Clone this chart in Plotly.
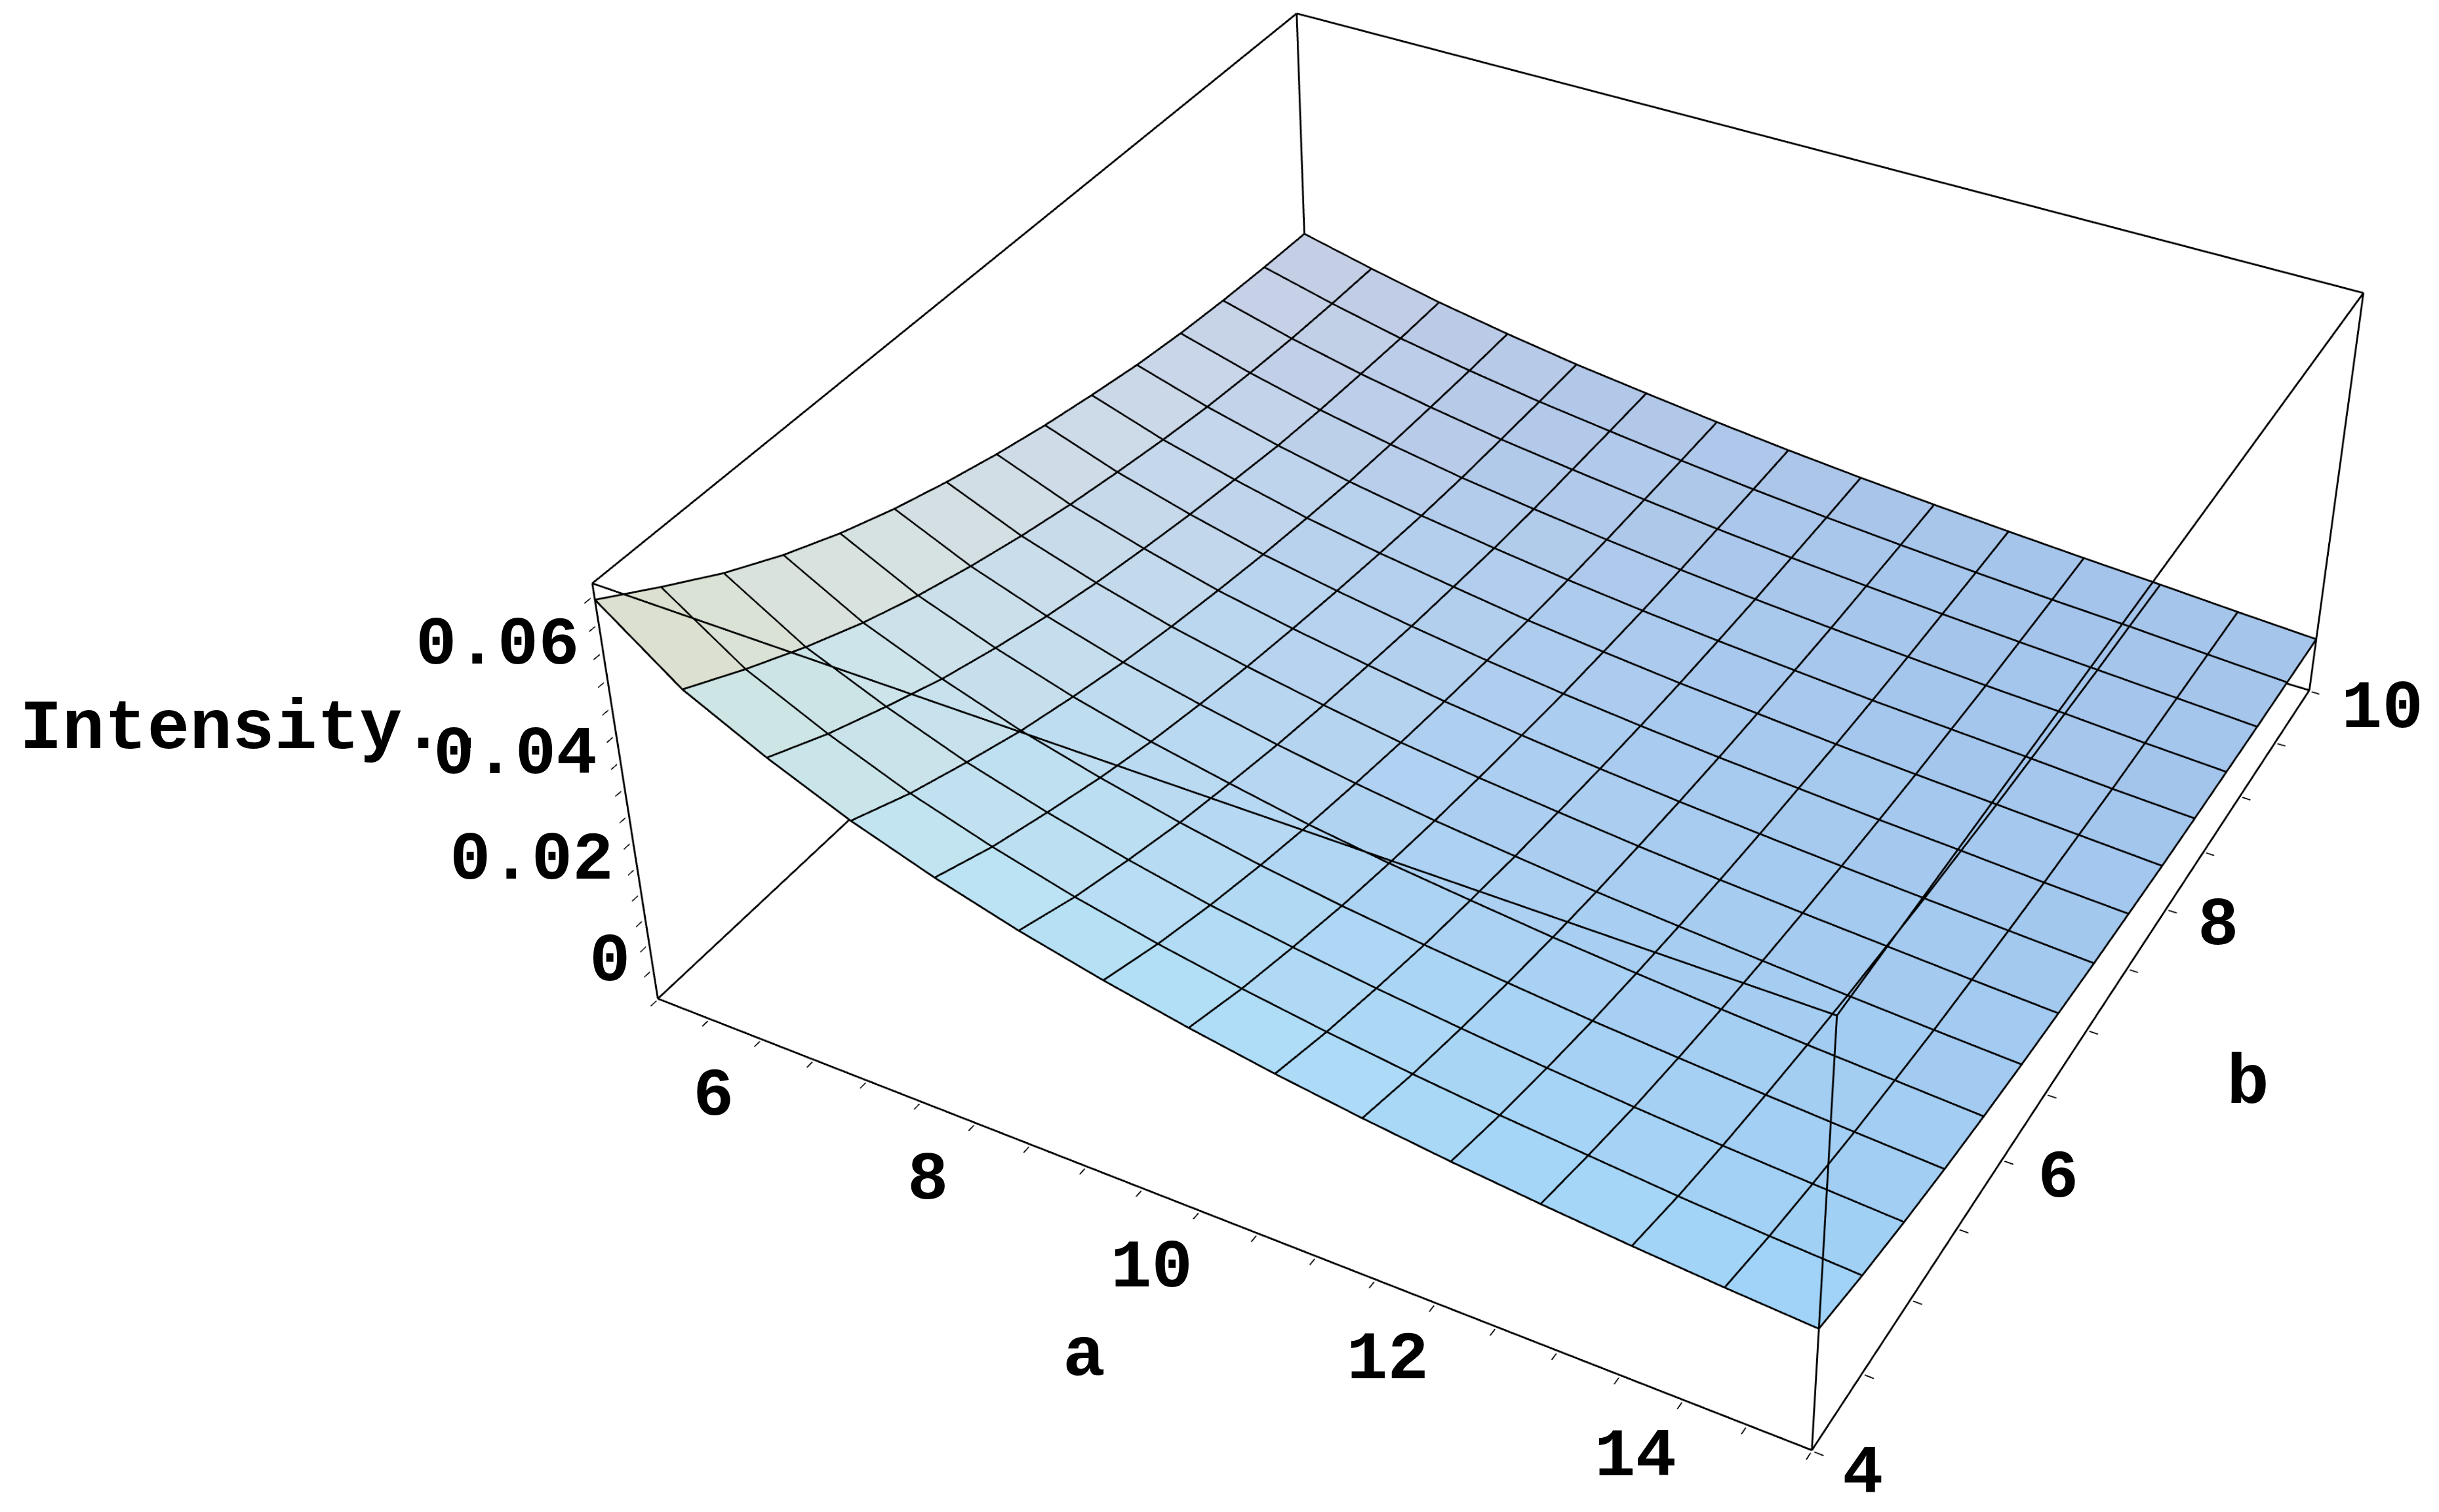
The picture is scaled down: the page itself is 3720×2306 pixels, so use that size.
import numpy as np
import plotly.graph_objects as go

a_values = [5 + i * 10 / 14 for i in range(15)]
b_values = [4 + j * 6 / 14 for j in range(15)]
# Intensity; each row is one b value, each column one a value
intensity = [
 [.0695,.0585,.0513,.0451,.0401,.0359,.0324,.0294,.0268,.0246,.0227,.0211,.0197,.0185,.0175],
 [.0630,.0530,.0462,.0404,.0358,.0319,.0287,.0260,.0237,.0217,.0200,.0186,.0172,.0161,.0152],
 [.0568,.0480,.0419,.0366,.0324,.0288,.0257,.0233,.0212,.0194,.0178,.0164,.0152,.0142,.0133],
 [.0515,.0436,.0379,.0331,.0293,.0260,.0232,.0209,.0190,.0174,.0159,.0147,.0136,.0126,.0117],
 [.0470,.0399,.0347,.0303,.0267,.0238,.0211,.0190,.0173,.0157,.0144,.0132,.0122,.0113,.0104],
 [.0432,.0368,.0319,.0278,.0246,.0218,.0194,.0174,.0158,.0143,.0131,.0120,.0110,.0101,.0093],
 [.0400,.0341,.0296,.0258,.0228,.0202,.0179,.0161,.0146,.0132,.0120,.0110,.0101,.0092,.0084],
 [.0372,.0318,.0277,.0241,.0213,.0189,.0167,.0150,.0135,.0122,.0111,.0101,.0092,.0084,.0076],
 [.0348,.0299,.0260,.0226,.0200,.0177,.0157,.0140,.0126,.0114,.0104,.0094,.0086,.0077,.0070],
 [.0328,.0282,.0246,.0214,.0189,.0168,.0148,.0133,.0119,.0108,.0097,.0088,.0080,.0072,.0064],
 [.0310,.0268,.0233,.0204,.0180,.0160,.0142,.0127,.0114,.0103,.0092,.0084,.0076,.0067,.0060],
 [.0297,.0258,.0225,.0198,.0174,.0155,.0138,.0123,.0110,.0099,.0089,.0080,.0073,.0064,.0057],
 [.0288,.0251,.0220,.0194,.0171,.0153,.0136,.0121,.0108,.0097,.0087,.0078,.0070,.0062,.0054],
 [.0282,.0247,.0216,.0191,.0169,.0151,.0134,.0119,.0106,.0095,.0085,.0076,.0069,.0060,.0052],
 [.0278,.0245,.0215,.0190,.0168,.0150,.0133,.0118,.0105,.0094,.0084,.0075,.0067,.0058,.0050],
]
a_major = [6, 8, 10, 12, 14]
b_major = [4, 6, 8, 10]
z_major = [0, 0.02, 0.04, 0.06]
a_range = [5, 15]
b_range = [4, 10]
z_range = [-0.0055, 0.0725]

def padded(r):
    d = (r[1] - r[0]) * 0.002
    return [r[0] - d, r[1] + d]

Z = np.array(intensity)
nb, na = Z.shape
X, Y = np.meshgrid(a_values, b_values)
aspect = dict(x=1.0, y=1.0, z=0.4)

vx, vy, vz = X.ravel(), Y.ravel(), Z.ravel()
ii, jj, kk, colors = [], [], [], []
dz_unit = aspect["z"] / (z_range[1] - z_range[0]) * (na - 1)
for j in range(nb - 1):
    for i in range(na - 1):
        p = j * na + i
        sx = -(Z[j, i+1] - Z[j, i] + Z[j+1, i+1] - Z[j+1, i]) / 2 * dz_unit
        sy = -(Z[j+1, i] - Z[j, i] + Z[j+1, i+1] - Z[j, i+1]) / 2 * dz_unit
        n = np.array([sx, sy, 1.0]) / np.sqrt(sx*sx + sy*sy + 1)
        r = min(255, 200 * n[0] - 30 * n[1] + 154 * n[2])
        g = min(255, 80 * n[0] + 105 * n[1] + 191 * n[2])
        b = min(255, -3 * n[0] + 99 * n[1] + 234.6 * n[2])
        c = f"rgb({r:.0f},{g:.0f},{b:.0f})"
        ii += [p, p]; jj += [p + 1, p + na + 1]; kk += [p + na + 1, p + na]
        colors += [c, c]

lx, ly, lz = [], [], []
lift = 0.00012
for j in range(nb):
    lx += list(X[j]) + [None]; ly += list(Y[j]) + [None]; lz += list(Z[j] + lift) + [None]
for i in range(na):
    lx += list(X[:, i]) + [None]; ly += list(Y[:, i]) + [None]; lz += list(Z[:, i] + lift) + [None]

# Bounding box: the twelve edges between the axis limits
ex, ey, ez = [], [], []
for p in a_range:
    for q in b_range:
        ex += [p, p, None]; ey += [q, q, None]; ez += z_range + [None]
for p in a_range:
    for q in z_range:
        ex += [p, p, None]; ey += b_range + [None]; ez += [q, q, None]
for p in b_range:
    for q in z_range:
        ex += a_range + [None]; ey += [p, p, None]; ez += [q, q, None]

fig = go.Figure()
fig.add_trace(go.Mesh3d(x=vx, y=vy, z=vz, i=ii, j=jj, k=kk, facecolor=colors, flatshading=True,
                        lighting=dict(ambient=1, diffuse=0, specular=0, fresnel=0, roughness=1),
                        hoverinfo="skip", showscale=False))
fig.add_trace(go.Scatter3d(x=lx, y=ly, z=lz, mode="lines", line=dict(color="black", width=3),
                           hoverinfo="skip", showlegend=False))
fig.add_trace(go.Scatter3d(x=ex, y=ey, z=ez, mode="lines", line=dict(color="black", width=3),
                           hoverinfo="skip", showlegend=False))

def axis(rng, vals, ticks="outside"):
    return dict(range=padded(rng), autorange=False, tickmode="array", tickvals=vals, showticklabels=False,
                ticks=ticks, ticklen=6, tickwidth=2, tickcolor="black",
                showline=False, showgrid=False,
                zeroline=False, showbackground=False, showspikes=False, title=dict(text=""))

# The canvas is larger than the window: that narrows Plotly's fixed field of view
PAGE_W, PAGE_H = 3720, 2306
W = H = 5400
OFF_X = W / 2 - 2321
OFF_Y = H / 2 - 978
label_font = dict(family="Liberation Mono", size=104, color="black")
title_font = dict(family="Liberation Mono", size=108, color="black")
def text3d(x, y, z, s, dx, dy, anchor="center"):
    return dict(x=x, y=y, z=z, text=f"<b>{s}</b>", showarrow=False, xanchor=anchor, yanchor="middle",
                xshift=dx, yshift=dy, font=label_font)
def text2d(px, py, s, anchor="center"):
    return dict(text=f"<b>{s}</b>", x=(px + OFF_X) / W, y=1 - (py + OFF_Y) / H, xref="paper", yref="paper", xanchor=anchor,
                yanchor="middle", showarrow=False, font=title_font)

scene_notes = [text3d(v, 4, z_range[0], f"{v:g}", -73, -87) for v in a_major]
scene_notes += [text3d(15, v, z_range[0], f"{v:g}", dx, dy) for v, dx, dy in zip(b_major, (78, 85, 79, 111), (-36, -29, -26, -28))]
scene_notes += [text3d(5, 4, v, f"{v:g}", -34, 14, "right") for v in z_major]

fig.update_layout(
    width=W, height=H, margin=dict(l=0, r=0, t=0, b=0), paper_bgcolor="white",
    showlegend=False, font=dict(family="Liberation Mono"),
    scene=dict(
        domain=dict(x=[0, 1], y=[0, 1]),
        aspectmode="manual", aspectratio=aspect,
        camera=dict(eye=dict(x=1.3, y=-2.4, z=2.0), up=dict(x=0, y=0, z=1), center=dict(x=0, y=0, z=0)),
        xaxis=axis(a_range, [5 + .5 * i for i in range(21)]),
        yaxis=axis(b_range, [4 + .5 * i for i in range(13)]),
        zaxis=axis(z_range, [0.005 * i for i in range(15)], "inside"),
        annotations=scene_notes,
    ),
    annotations=[text2d(28, 1112, "Intensity..", "left"), text2d(1653, 2068, "a"), text2d(3428, 1653, "b")],
)
fig.write_html("out.html", config=dict(displayModeBar=False), post_script=(
    "document.documentElement.style.overflow='hidden';"
    f"document.body.style.cssText='margin:0;height:{PAGE_H}px;width:{PAGE_W}px;overflow:hidden';"
    f"var gd=document.getElementById('{{plot_id}}');gd.style.marginTop='{-OFF_Y}px';gd.style.marginLeft='{-OFF_X}px';"))
